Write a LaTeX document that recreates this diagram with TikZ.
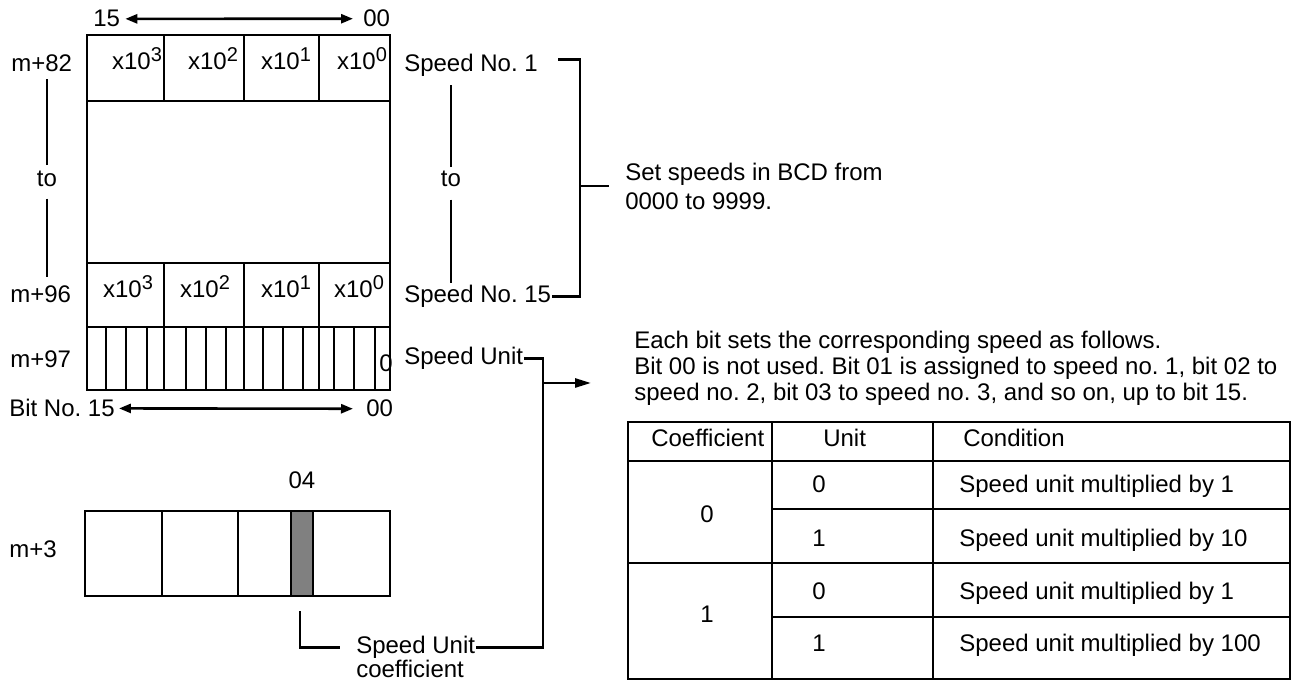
\documentclass[tikz,border=0pt]{standalone}
\usepackage{fontspec}
\setmainfont{Liberation Sans}
\usetikzlibrary{arrows.meta,positioning}
\definecolor{barfill}{RGB}{128,128,128}
\newcommand{\digsup}[1]{\raisebox{4pt}{\fontsize{10}{10}\selectfont #1}}
\tikzset{
  lbl/.style={anchor=base west},
  ctr/.style={anchor=base},
  dbl/.style={{Triangle[length=6pt,width=4.5pt]}-{Triangle[length=6pt,width=4.5pt]}},
  onearrow/.style={-{Triangle[length=8pt,width=4.5pt]}},
}
\frenchspacing

\begin{document}
\begin{tikzpicture}[x=0.5pt,y=-0.5pt,line width=1.3pt,
  font=\fontsize{12}{13}\selectfont,every node/.style={inner sep=0pt}]
  \useasboundingbox (0,0) rectangle (1292,683);
  % words m+82 to m+97
  \draw (87,35) rectangle (390,390);
  \draw (87,101) -- (390,101);
  \draw (87,263) -- (390,263);
  \draw (87,327) -- (390,327);
  \foreach \x in {164,244,319} {
    \draw (\x,35) -- (\x,101);
    \draw (\x,263) -- (\x,390);
  }
  \foreach \x in {106,126,147,186,206,226,263,283,303,334,354,375}
    \draw (\x,327) -- (\x,390);
  \foreach \x/\p [count=\i] in {137/3,213/2,286/1,362/0}
    \node[ctr] (dA\i) at (\x,70) {x10\digsup{\p}};
  \foreach \x/\p [count=\i] in {128/3,205/2,286/1,359/0}
    \node[ctr] (dB\i) at (\x,298) {x10\digsup{\p}};
  \node[lbl] (bit0) at (378,372) {0};

  % bit numbers
  \node[lbl] (t15) at (92,27) {15};
  \node[lbl] (t00) at (362,27) {00};
  \draw[dbl] ([xshift=2pt]t15.east) -- ([xshift=-4.5pt]t00.west);
  \node[lbl] (bitno) at (8,417) {Bit No. 15};
  \node[lbl] (b00) at (365,417) {00};
  \draw[dbl] ([xshift=1.5pt]bitno.east) -- ([xshift=-6pt]b00.west);

  % word labels
  \node[lbl] (m82) at (10,72) {m+82};
  \node[lbl] (m96) at (9,303) {m+96};
  \node[lbl] (m97) at (9,368) {m+97};
  \node[ctr] (toL) at (47,187) {to};
  \draw ([yshift=2.5pt]toL.north) -- ++(0,-86);
  \draw ([yshift=-5pt]toL.south) -- ++(0,78);

  % speeds
  \node[lbl] (sp1) at (403,72) {Speed No. 1};
  \node[lbl] (sp15) at (403,303) {Speed No. 15};
  \node[ctr] (toM) at (451,187) {to};
  \draw ([yshift=1.5pt]toM.north) -- ++(0,-82);
  \draw ([yshift=-5.5pt]toM.south) -- ++(0,83);
  \coordinate (brmid) at (580,186);
  \draw ([xshift=9.5pt,yshift=3pt]sp1.east) -| (brmid) |- (sp15.east);
  \node[right=14.5pt of brmid,inner xsep=7.5pt,align=left,
    font=\fontsize{12}{14.5}\selectfont] (setsp) {Set speeds in BCD from\\0000 to 9999.};
  \draw (brmid) -- (setsp.west);

  % speed unit
  \node[lbl] (su) at (403,365) {Speed Unit};
  \coordinate (sujoin) at (543,383);
  \coordinate (suarr) at (591,383);
  \node[lbl] (suc) at (355,654) {Speed Unit};
  \node[lbl] (coef) at (355,678) {coefficient};
  \draw (su.east) -| (sujoin) |- (suc.east);
  \draw[onearrow] (sujoin) -- (suarr);

  % word m+3
  \draw (85,511) rectangle (390,596);
  \draw (162,511) -- (162,596);
  \draw (238,511) -- (238,596);
  \node[draw,fill=barfill,minimum width=11pt,minimum height=42.5pt] (b04) at (302,553.5) {};
  \node[above=10pt of b04] (n04) {04};
  \node[lbl] (m3) at (8,558) {m+3};
  \draw ([xshift=-1pt,yshift=-7pt]b04.south) |- ([xshift=-7.5pt]suc.west);

  % notes and table
  \node[lbl] (par1) at (633,349) {Each bit sets the corresponding speed as follows.};
  \node[lbl] (par2) at (633,375) {Bit 00 is not used. Bit 01 is assigned to speed no. 1, bit 02 to};
  \node[lbl] (par3) at (633,401) {speed no. 2, bit 03 to speed no. 3, and so on, up to bit 15.};
  \draw (628,422) rectangle (1290,679);
  \draw (628,461) -- (1290,461);
  \draw (628,563) -- (1290,563);
  \draw (772,509) -- (1290,509);
  \draw (772,617) -- (1290,617);
  \draw (772,422) -- (772,679);
  \draw (933,422) -- (933,679);
  \node[lbl] (hcoef) at (650,447) {Coefficient};
  \node[lbl] (hunit) at (822,447) {Unit};
  \node[lbl] (hcond) at (962,447) {Condition};
  \node[ctr] (c0) at (707,523) {0};
  \node[ctr] (c1) at (707,623) {1};
  \foreach \y/\u/\m [count=\i] in {493/0/1,547/1/10,600/0/1,652/1/100} {
    \node[ctr] (u\i) at (819,\y) {\u};
    \node[lbl] (cond\i) at (958,\y) {Speed unit multiplied by \m};
  }
\end{tikzpicture}
\end{document}
